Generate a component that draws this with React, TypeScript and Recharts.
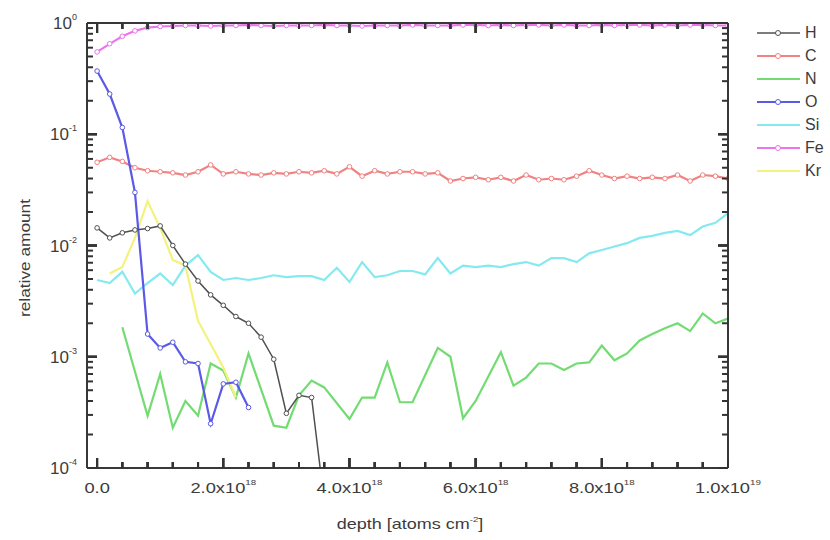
import React from 'react';
import { LineChart, Line, XAxis, YAxis } from 'recharts';

// depth in units of 1e18 atoms cm^-2
const depthGrid = [0, 0.2, 0.4, 0.6, 0.8, 1, 1.2, 1.4, 1.6, 1.8, 2, 2.2, 2.4, 2.6, 2.8, 3, 3.2, 3.4, 3.6, 3.8, 4, 4.2, 4.4, 4.6, 4.8, 5, 5.2, 5.4, 5.6, 5.8, 6, 6.2, 6.4, 6.6, 6.8, 7, 7.2, 7.4, 7.6, 7.8, 8, 8.2, 8.4, 8.6, 8.8, 9, 9.2, 9.4, 9.6, 9.8, 10];

const hValues = [0.0144, 0.0117, 0.013, 0.0138, 0.0142, 0.015, 0.010, 0.0068, 0.0048, 0.0036, 0.0029, 0.0023, 0.0020, 0.0015, 0.00095, 0.00031, 0.00045, 0.00043, 0.00005];

const cValues = [0.056, 0.062, 0.057, 0.050, 0.047, 0.046, 0.045, 0.043, 0.046, 0.053, 0.044, 0.046, 0.044, 0.043, 0.045, 0.044, 0.046, 0.045, 0.047, 0.044, 0.051, 0.042, 0.047, 0.044, 0.046, 0.046, 0.044, 0.045, 0.038, 0.040, 0.041, 0.039, 0.041, 0.038, 0.043, 0.039, 0.040, 0.039, 0.042, 0.047, 0.043, 0.040, 0.042, 0.040, 0.041, 0.040, 0.043, 0.038, 0.043, 0.042, 0.040];

const nDepth = [0.4, 0.8, 1.0, 1.2, 1.4, 1.6, 1.8, 2.0, 2.2, 2.4, 2.8, 3.0, 3.2, 3.4, 3.6, 4.0, 4.2, 4.4, 4.6, 4.8, 5.0, 5.4, 5.6, 5.8, 6.0, 6.4, 6.6, 6.8, 7.0, 7.2, 7.4, 7.6, 7.8, 8.0, 8.2, 8.4, 8.6, 8.8, 9.0, 9.2, 9.4, 9.6, 9.8, 10.0];
const nValues = [0.00184, 0.000295, 0.0007, 0.00023, 0.0004, 0.000295, 0.00087, 0.00075, 0.00043, 0.00107, 0.00024, 0.00023, 0.00045, 0.00061, 0.00053, 0.000276, 0.00043, 0.00043, 0.00089, 0.00039, 0.00039, 0.0012, 0.001, 0.00028, 0.0004, 0.0011, 0.00055, 0.00065, 0.00087, 0.00087, 0.00076, 0.00087, 0.00089, 0.00126, 0.00093, 0.00107, 0.0014, 0.0016, 0.0018, 0.002, 0.0017, 0.00245, 0.002, 0.0022];

const oValues = [0.37, 0.23, 0.115, 0.03, 0.0016, 0.0012, 0.00135, 0.0009, 0.00087, 0.00025, 0.00057, 0.00059, 0.00035];

const siValues = [0.0049, 0.0046, 0.0058, 0.0037, 0.0046, 0.0056, 0.0044, 0.0066, 0.0082, 0.0058, 0.0049, 0.0051, 0.0049, 0.0051, 0.0054, 0.0052, 0.0053, 0.0053, 0.0049, 0.0063, 0.0047, 0.0071, 0.0052, 0.0054, 0.0059, 0.0059, 0.0055, 0.0077, 0.0056, 0.0066, 0.0064, 0.0066, 0.0064, 0.0068, 0.0071, 0.0066, 0.0077, 0.0077, 0.0071, 0.0085, 0.0091, 0.0098, 0.0105, 0.0117, 0.0122, 0.013, 0.0135, 0.0124, 0.0148, 0.016, 0.0195];

const feValues = [0.55, 0.65, 0.76, 0.85, 0.91, 0.93, 0.94, 0.95, 0.95, 0.94, 0.95, 0.95, 0.96, 0.95, 0.94, 0.95, 0.95, 0.95, 0.96, 0.95, 0.95, 0.94, 0.95, 0.95, 0.95, 0.96, 0.95, 0.95, 0.95, 0.96, 0.96, 0.95, 0.96, 0.95, 0.96, 0.96, 0.95, 0.96, 0.95, 0.95, 0.96, 0.95, 0.96, 0.96, 0.95, 0.96, 0.95, 0.96, 0.96, 0.95, 0.95];

const krDepth = [0.2, 0.4, 0.6, 0.8, 1.0, 1.2, 1.4, 1.6, 1.8, 2.0, 2.2];
const krValues = [0.0056, 0.0064, 0.0117, 0.025, 0.0144, 0.0074, 0.0066, 0.0021, 0.0013, 0.0008, 0.00043];

const xMajorTicks = [0, 2, 4, 6, 8, 10];
const xMajorMantissa = ['0.0', '2.0', '4.0', '6.0', '8.0', '1.0'];
const xMajorExp = ['', '18', '18', '18', '18', '19'];
const xAllTicks = [0, 0.4, 0.8, 1.2, 1.6, 2, 2.4, 2.8, 3.2, 3.6, 4, 4.4, 4.8, 5.2, 5.6, 6, 6.4, 6.8, 7.2, 7.6, 8, 8.4, 8.8, 9.2, 9.6, 10];

const yMajorTicks = [1e-4, 1e-3, 1e-2, 1e-1, 1];
const yMajorExp = ['-4', '-3', '-2', '-1', '0'];
// minor y ticks, split into small groups (one overlay axis each)
const yMinorGroups = [
  [0.0002, 0.0005, 0.002, 0.005, 0.02, 0.05, 0.2, 0.5],
  [0.0003, 0.0004, 0.003, 0.004, 0.03, 0.04, 0.3, 0.4],
  [0.0006, 0.0007, 0.006, 0.007, 0.06, 0.07, 0.6, 0.7],
  [0.0008, 0.0009, 0.008, 0.009, 0.08, 0.09, 0.8, 0.9],
];

const seriesNames = ['H', 'C', 'N', 'O', 'Si', 'Fe', 'Kr'];
const seriesColors = ['#505050', '#f08282', '#72dc72', '#5a5ae6', '#84eaf0', '#ec74ec', '#f2f27c'];
const seriesMarkers = [true, true, false, true, false, true, false];

const zip = (xs: number[], ys: number[]) => ys.map((v, i) => ({ x: xs[i], y: v }));

const hData = zip(depthGrid, hValues);
const cData = zip(depthGrid, cValues);
const nData = zip(nDepth, nValues);
const oData = zip(depthGrid, oValues);
const siData = zip(depthGrid, siValues);
const feData = zip(depthGrid, feValues);
const krData = zip(krDepth, krValues);
const allData = [hData, cData, nData, oData, siData, feData, krData];

const TEXT = '#3c3c3c';
const FONT = '"Liberation Sans", Arial, sans-serif';
const MARGIN = { top: 22, right: 101, bottom: 22, left: 0 };
const X_DOMAIN: [number, number] = [-0.16, 10];
const Y_DOMAIN: [number, number] = [1e-4, 1];

const xMajorIndex = (v: number) => xMajorTicks.findIndex((t) => Math.abs(t - v) < 1e-6);
const yMajorIndex = (v: number) => yMajorTicks.findIndex((t) => Math.abs(Math.log10(t) - Math.log10(v)) < 1e-6);

// ---- tick labels (main chart) ----
const labelBottom = (props: any) => {
  const x = Number(props.x);
  const y = Number(props.y);
  const idx = xMajorIndex(props.payload.value);
  if (idx < 0) return <g />;
  return (
    <text transform={`translate(${x},${y + 25}) scale(1.22,1)`} textAnchor="middle" fontSize={15} fill={TEXT} fontFamily={FONT}>
      <tspan>{xMajorMantissa[idx]}{xMajorExp[idx] ? 'x10' : ''}</tspan>
      {xMajorExp[idx] ? <tspan dy={-8} fontSize={8}>{xMajorExp[idx]}</tspan> : null}
    </text>
  );
};

const labelLeft = (props: any) => {
  const x = Number(props.x);
  const y = Number(props.y);
  const idx = yMajorIndex(props.payload.value);
  if (idx < 0) return <g />;
  return (
    <text x={x - 10} y={y + 6} textAnchor="end" fontSize={17} fill={TEXT} fontFamily={FONT}>
      <tspan>10</tspan>
      <tspan dy={-9} fontSize={9}>{yMajorExp[idx]}</tspan>
    </text>
  );
};

// ---- tick marks (overlay charts), pointing inward ----
const markBottom = (props: any) => {
  const x = Number(props.x);
  const y = Number(props.y);
  const len = xMajorIndex(props.payload.value) >= 0 ? 10 : 6;
  return <path d={`M${x},${y}V${y - len}`} stroke="#333333" strokeWidth={2} fill="none" />;
};
const markTop = (props: any) => {
  const x = Number(props.x);
  const y = Number(props.y);
  const len = xMajorIndex(props.payload.value) >= 0 ? 10 : 6;
  return <path d={`M${x},${y}V${y + len}`} stroke="#333333" strokeWidth={2} fill="none" />;
};
const markLeft = (props: any) => {
  const x = Number(props.x);
  const y = Number(props.y);
  const len = yMajorIndex(props.payload.value) >= 0 ? 10 : 6;
  return <path d={`M${x},${y}H${x + len}`} stroke="#333333" strokeWidth={2} fill="none" />;
};
const markRight = (props: any) => {
  const x = Number(props.x);
  const y = Number(props.y);
  const len = yMajorIndex(props.payload.value) >= 0 ? 10 : 6;
  return <path d={`M${x},${y}H${x - len}`} stroke="#333333" strokeWidth={2} fill="none" />;
};

const TickOverlay = ({ yTicks }: { yTicks: number[] }) => (
  <div style={{ position: 'absolute', left: 0, top: 0, pointerEvents: 'none' }}>
    <LineChart width={830} height={540} margin={MARGIN}>
      <XAxis xAxisId="b" type="number" dataKey="x" domain={X_DOMAIN} allowDataOverflow ticks={xAllTicks} interval={0}
        tick={markBottom} tickLine={false} tickSize={-5} tickMargin={5} height={50} stroke="#333" />
      <XAxis xAxisId="t" orientation="top" type="number" dataKey="x" domain={X_DOMAIN} allowDataOverflow ticks={xAllTicks} interval={0}
        tick={markTop} tickLine={false} tickSize={-5} tickMargin={5} height={1} stroke="#333" />
      <YAxis yAxisId="l" type="number" scale="log" domain={Y_DOMAIN} allowDataOverflow ticks={yTicks} interval={0}
        tick={markLeft} tickLine={false} tickSize={-5} tickMargin={5} width={87} stroke="#333" />
      <YAxis yAxisId="r" orientation="right" type="number" scale="log" domain={Y_DOMAIN} allowDataOverflow ticks={yTicks} interval={0}
        tick={markRight} tickLine={false} tickSize={-5} tickMargin={5} width={1} stroke="#333" />
      <Line xAxisId="b" yAxisId="l" data={cData} dataKey="y" stroke="none" dot={false} isAnimationActive={false} />
    </LineChart>
  </div>
);

const LegendBox = () => (
  <div style={{ position: 'absolute', left: 752, top: 21, fontFamily: FONT }}>
    {seriesNames.map((name, i) => (
      <div key={name} style={{ display: 'flex', alignItems: 'center', height: 23 }}>
        <svg width={50} height={14}>
          <line x1={5} y1={7} x2={48} y2={7} stroke={seriesColors[i]} strokeWidth={i === 0 ? 1.5 : 2.2} />
          {seriesMarkers[i] && <circle cx={26} cy={7} r={2.5} fill="#fff" stroke={seriesColors[i]} strokeWidth={1} />}
        </svg>
        <span style={{ fontSize: 16, color: TEXT, marginLeft: 3 }}>{name}</span>
      </div>
    ))}
  </div>
);

const AxisTitles = () => (
  <>
    <div
      style={{
        position: 'absolute', left: 24, top: 258, fontFamily: FONT, fontSize: 15, color: TEXT,
        whiteSpace: 'nowrap', lineHeight: 1, transform: 'translate(-50%,-50%) rotate(-90deg) scale(1.15,1)',
      }}
    >
      relative amount
    </div>
    <div
      style={{
        position: 'absolute', left: 410, top: 516, fontFamily: FONT, fontSize: 15, color: TEXT,
        whiteSpace: 'nowrap', lineHeight: 1, transform: 'translateX(-50%) scale(1.2,1)',
      }}
    >
      depth [atoms cm<span style={{ fontSize: 8, position: 'relative', top: -7 }}>-2</span>]
    </div>
  </>
);

export default function App() {
  return (
    <div style={{ position: 'absolute', left: 0, top: 0, width: 830, height: 540, background: '#fff' }}>
      <LineChart width={830} height={540} margin={MARGIN}>
        <XAxis xAxisId="b" type="number" dataKey="x" domain={X_DOMAIN} allowDataOverflow ticks={xMajorTicks} interval={0}
          tick={labelBottom} tickLine={false} tickSize={-5} tickMargin={5} height={50} stroke="#333" />
        <XAxis xAxisId="t" orientation="top" type="number" dataKey="x" domain={X_DOMAIN} allowDataOverflow ticks={xMajorTicks} interval={0}
          tick={false} tickLine={false} height={1} stroke="#333" />
        <YAxis yAxisId="l" type="number" scale="log" domain={Y_DOMAIN} allowDataOverflow ticks={yMajorTicks} interval={0}
          tick={labelLeft} tickLine={false} tickSize={-5} tickMargin={5} width={87} stroke="#333" />
        <YAxis yAxisId="r" orientation="right" type="number" scale="log" domain={Y_DOMAIN} allowDataOverflow ticks={yMajorTicks} interval={0}
          tick={false} tickLine={false} width={1} stroke="#333" />
        {[1, 2, 4, 6, 3, 5, 0].map((i) => (
          <Line
            key={seriesNames[i]}
            xAxisId="b"
            yAxisId="l"
            data={allData[i]}
            dataKey="y"
            type="linear"
            stroke={seriesColors[i]}
            strokeWidth={i === 0 ? 1.5 : 2.2}
            dot={seriesMarkers[i] ? { r: 2.3, fill: '#fff', stroke: seriesColors[i], strokeWidth: 1 } : false}
            isAnimationActive={false}
            name={seriesNames[i]}
          />
        ))}
      </LineChart>
      {yMinorGroups.map((g, k) => (
        <TickOverlay key={k} yTicks={[...yMajorTicks, ...g]} />
      ))}
      <AxisTitles />
      <LegendBox />
    </div>
  );
}
